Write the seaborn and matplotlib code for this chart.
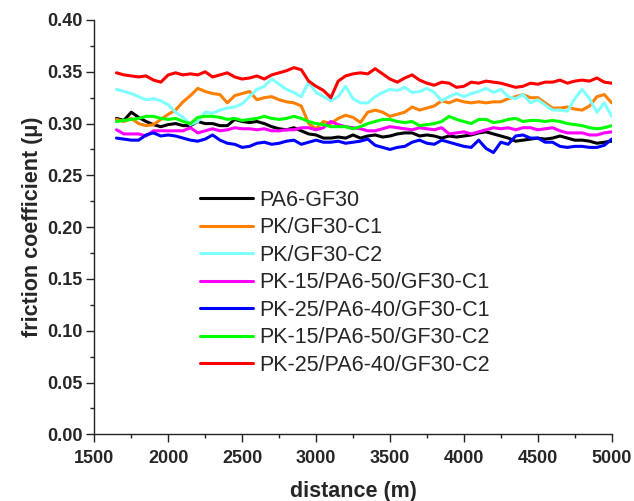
import numpy as np
import pandas as pd
import matplotlib
matplotlib.use("Agg")
import matplotlib.pyplot as plt
import seaborn as sns
from matplotlib.ticker import MultipleLocator

# ---- data ----
distance = np.arange(1650, 5001, 50)

series_labels = ["PA6-GF30", "PK/GF30-C1", "PK/GF30-C2",
                 "PK-15/PA6-50/GF30-C1", "PK-25/PA6-40/GF30-C1",
                 "PK-15/PA6-50/GF30-C2", "PK-25/PA6-40/GF30-C2"]
series_colors = ["#000000", "#FF8000", "#80FFFF", "#FF00FF",
                 "#0000FF", "#00FF00", "#FF0000"]

pa6_gf30 = [.305, .303, .311, .306, .302, .299, .297, .299, .300, .298, .298, .302, .300, .300, .298, .298, .304,
            .302, .301, .302, .300, .297, .295, .294, .296, .293, .290, .289, .286, .286, .287, .286, .289, .286,
            .288, .289, .287, .288, .290, .291, .291, .288, .289, .288, .286, .288, .287, .288, .289, .291, .292,
            .290, .288, .286, .283, .284, .285, .286, .285, .286, .288, .286, .284, .284, .283, .281, .282, .283]
pk_gf30_c1 = [.304, .302, .305, .300, .298, .299, .304, .309, .313, .321, .327, .334, .331, .329, .328, .320, .327,
              .329, .331, .323, .325, .326, .323, .321, .320, .317, .300, .295, .302, .300, .305, .308, .306, .301,
              .311, .313, .311, .307, .309, .311, .316, .313, .315, .317, .322, .320, .323, .321, .320, .321, .320,
              .321, .321, .324, .326, .328, .325, .325, .320, .315, .315, .316, .314, .313, .317, .326, .328, .320]
pk_gf30_c2 = [.333, .331, .329, .326, .323, .324, .322, .318, .311, .306, .299, .302, .311, .310, .313, .315, .316,
              .319, .326, .333, .336, .343, .338, .333, .330, .326, .340, .330, .326, .322, .326, .336, .324, .320,
              .320, .326, .330, .333, .332, .335, .330, .331, .334, .330, .322, .326, .329, .326, .329, .331, .334,
              .330, .333, .326, .324, .328, .320, .323, .318, .313, .313, .312, .324, .333, .324, .311, .320, .307]
pk15_c1 = [.294, .290, .290, .290, .288, .293, .293, .293, .293, .293, .296, .291, .293, .295, .293, .294, .296,
           .295, .295, .294, .295, .293, .293, .294, .294, .296, .296, .294, .296, .302, .299, .297, .296, .295,
           .293, .293, .295, .297, .296, .295, .294, .296, .295, .294, .296, .290, .291, .292, .290, .292, .294,
           .296, .295, .296, .294, .296, .296, .294, .295, .296, .293, .291, .291, .291, .289, .289, .291, .292]
pk25_c1 = [.286, .285, .284, .284, .289, .291, .288, .289, .288, .286, .284, .283, .285, .289, .284, .281, .280,
           .277, .278, .281, .282, .280, .281, .283, .284, .280, .282, .284, .282, .282, .283, .281, .282, .283,
           .285, .279, .277, .275, .277, .278, .282, .284, .281, .280, .284, .282, .280, .278, .277, .284, .276,
           .272, .282, .280, .288, .289, .286, .286, .282, .282, .278, .277, .278, .278, .277, .277, .279, .285]
pk15_c2 = [.302, .303, .304, .305, .307, .307, .305, .304, .305, .302, .300, .306, .307, .307, .306, .304, .305,
           .303, .304, .305, .307, .305, .304, .305, .307, .305, .302, .300, .299, .297, .297, .297, .295, .297,
           .300, .302, .304, .304, .302, .301, .302, .298, .299, .300, .302, .307, .304, .302, .300, .304, .304,
           .301, .302, .304, .305, .302, .303, .303, .302, .303, .302, .300, .299, .298, .296, .295, .296, .298]
pk25_c2 = [.349, .347, .346, .345, .346, .342, .340, .347, .349, .347, .348, .347, .350, .345, .347, .349, .345,
           .343, .344, .346, .343, .347, .349, .351, .354, .352, .341, .336, .332, .325, .341, .346, .348, .349,
           .348, .353, .348, .343, .340, .344, .347, .342, .339, .337, .340, .339, .335, .336, .340, .339, .341,
           .340, .339, .337, .335, .336, .339, .338, .340, .340, .342, .339, .341, .342, .341, .344, .340, .339]

series_values = [pa6_gf30, pk_gf30_c1, pk_gf30_c2, pk15_c1, pk25_c1, pk15_c2, pk25_c2]

x_ticks = [1500, 2000, 2500, 3000, 3500, 4000, 4500, 5000]
y_ticks = [0.00, 0.05, 0.10, 0.15, 0.20, 0.25, 0.30, 0.35, 0.40]

# ---- build long table ----
df = pd.concat([pd.DataFrame({"distance": distance, "mu": vals, "series": lab})
                 for lab, vals in zip(series_labels, series_values)], ignore_index=True)

sns.set_theme(style="ticks")
plt.rcParams["font.family"] = ["Liberation Sans", "DejaVu Sans"]

fig = plt.figure(figsize=(6.34, 5.01), dpi=100)
ax = fig.add_axes([94.3 / 634, 1 - 434.3 / 501, (611.7 - 94.3) / 634, (434.3 - 20) / 501])

sns.lineplot(data=df, x="distance", y="mu", hue="series", hue_order=series_labels,
             palette=series_colors, linewidth=2.2, estimator=None, sort=False, ax=ax)

ax.set_xlim(1500, 5000)
ax.set_ylim(0, 0.40)
ax.set_xticks(x_ticks)
ax.set_yticks(y_ticks)
ax.set_xticklabels([str(t) for t in x_ticks])
ax.set_yticklabels([f"{t:.2f}" for t in y_ticks])
ax.xaxis.set_minor_locator(MultipleLocator(250))
ax.yaxis.set_minor_locator(MultipleLocator(0.025))

for s in ["top", "right"]:
    ax.spines[s].set_visible(False)
for s in ["left", "bottom"]:
    ax.spines[s].set_linewidth(1.0)
    ax.spines[s].set_color("#222222")

ax.tick_params(which="major", direction="out", length=5.5, width=1.0, color="#222222",
               labelsize=13)
ax.tick_params(axis="x", which="major", pad=6)
ax.tick_params(axis="y", which="major", pad=3)
ax.tick_params(which="minor", direction="out", length=3, width=1.0, color="#222222")
for lab in ax.get_xticklabels() + ax.get_yticklabels():
    lab.set_fontweight("bold")

ax.set_xlabel("distance (m)", fontsize=15.5, fontweight="bold", labelpad=10)
ax.set_ylabel("friction coefficient (\u03bc)", fontsize=15.5, fontweight="bold", labelpad=3)

leg = ax.legend(frameon=False, loc="upper left", bbox_to_anchor=(0.204, 0.590),
                fontsize=15.5, handlelength=2.45, handletextpad=0.3, labelspacing=0.3,
                borderaxespad=0, borderpad=0)
for line in leg.get_lines():
    line.set_linewidth(2.2)

fig.savefig("out.png", dpi=100)
